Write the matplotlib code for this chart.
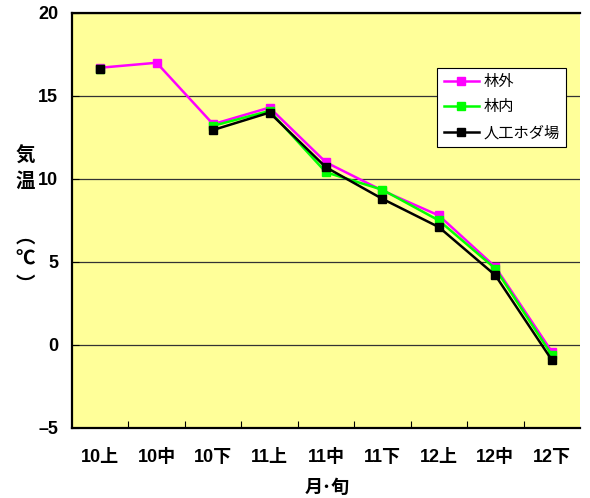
import numpy as np
import matplotlib.pyplot as plt
from matplotlib.ticker import FixedLocator

plt.rcParams['font.family'] = ['Liberation Sans', 'Noto Sans CJK JP', 'DejaVu Sans']

# data (月・旬 vs 気温)
categories = ['10上', '10中', '10下', '11上', '11中', '11下', '12上', '12中', '12下']
rin_gai = [16.7, 17.0, 13.3, 14.3, 11.0, 9.3, 7.8, 4.7, -0.4]       # 林外
rin_nai = [16.6, np.nan, 13.2, 14.1, 10.4, 9.35, 7.5, 4.6, -0.6]   # 林内
jinko = [16.6, np.nan, 12.95, 14.0, 10.7, 8.8, 7.1, 4.2, -0.9]     # 人工ホダ場

series = [('林外', rin_gai, '#ff00ff'),
          ('林内', rin_nai, '#00ff00'),
          ('人工ホダ場', jinko, '#000000')]

fig = plt.figure(figsize=(5.9, 4.98), dpi=100)
ax = fig.add_axes([0.122, 0.1406, 0.861, 0.8334])
ax.set_facecolor('#ffff99')

x = np.arange(len(categories))
for name, vals, col in series:
    ax.plot(x, vals, color=col, lw=1.8, marker='s', markersize=5.5,
            markerfacecolor=col, markeredgecolor=col, label=name, zorder=3)

ax.set_xlim(-0.5, len(categories) - 0.5)
ax.set_ylim(-5, 20)
ax.set_yticks([-5, 0, 5, 10, 15, 20])
ax.set_yticklabels(['–5', '0', '5', '10', '15', '20'], fontsize=13, fontweight='bold')
ax.yaxis.grid(True, color='#333333', lw=0.9)
ax.set_axisbelow(True)

ax.set_xticks(x)
ax.set_xticklabels(categories, fontsize=13, fontweight='bold')
ax.tick_params(axis='x', length=0, pad=15)
ax.xaxis.set_minor_locator(FixedLocator(np.arange(0.5, len(categories) - 1, 1.0)))
ax.tick_params(axis='x', which='minor', direction='in', length=5, width=0.8)
ax.tick_params(axis='y', direction='in', length=5, width=0.8, pad=10)

for s in ['left', 'top', 'bottom']:
    ax.spines[s].set_linewidth(1.6)
ax.spines['right'].set_visible(False)

leg = ax.legend(loc='upper left', bbox_to_anchor=(0.718, 0.867), fontsize=11,
                frameon=True, fancybox=False, framealpha=1, edgecolor='black',
                handlelength=2.3, borderpad=0.45, labelspacing=0.75, handletextpad=0.3,
                borderaxespad=0)
leg.get_frame().set_linewidth(0.8)

# vertical y label
ylabel_chars = [('気', 156), ('温', 181), ('︵', 238), ('℃', 260), ('︶', 286)]
for ch, ypix in ylabel_chars:
    fig.text(25 / 590, 1 - ypix / 498, ch, ha='center', va='center',
             fontsize=14, fontweight='bold')

fig.text(327 / 590, 1 - 488 / 498, '月･旬', ha='center', va='center',
         fontsize=13, fontweight='bold')

fig.savefig('out.png', dpi=100)
